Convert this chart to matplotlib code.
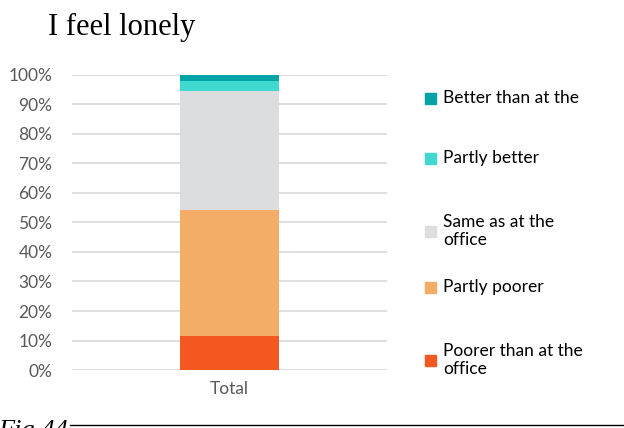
import matplotlib
matplotlib.use("Agg")
import matplotlib.pyplot as plt
from matplotlib.patches import Rectangle
from matplotlib.lines import Line2D

categories = ["Total"]
series_labels = ["Poorer than at the\noffice", "Partly poorer", "Same as at the\noffice",
                 "Partly better", "Better than at the"]
series_values = [11.5, 42.7, 40.4, 3.4, 2.0]
series_colors = ["#F45822", "#F3AD67", "#DCDDDF", "#40D9D0", "#00A3A6"]
ytick_labels = ["0%", "10%", "20%", "30%", "40%", "50%", "60%", "70%", "80%", "90%", "100%"]

fig = plt.figure(figsize=(6.24, 4.28), dpi=100)
ax = fig.add_axes([0.115, 0.1355, 0.505, 0.6893])

bottom = 0.0
for val, col in zip(series_values, series_colors):
    ax.bar(categories, [val / 100], bottom=bottom, width=0.315, color=col, zorder=3)
    bottom += val / 100

ax.set_xlim(-0.5, 0.5)
ax.set_ylim(0, 1.0)
ax.set_yticks([i / 10 for i in range(11)])
ax.set_yticklabels(ytick_labels, fontsize=12.5, color="#595959", family="Lato")
ax.tick_params(axis="y", length=0, pad=14)
ax.tick_params(axis="x", length=0, pad=8, labelsize=12.5, labelcolor="#595959")
for lbl in ax.get_xticklabels():
    lbl.set_family("Lato")
ax.grid(axis="y", color="#D9D9D9", linewidth=1.2, zorder=0)
for s in ax.spines.values():
    s.set_visible(False)

# Legend, listed top to bottom
legend_y = [98, 158, 231, 287, 360]
W, H = 624, 428
for (lab, col), ypx in zip(list(zip(series_labels, series_colors))[::-1], legend_y):
    fig.patches.append(Rectangle((425 / W, 1 - (ypx + 5.5) / H), 11 / W, 11 / H,
                                 transform=fig.transFigure, color=col))
    fig.text(443 / W, 1 - ypx / H, lab, fontsize=12.5, family="Lato", color="#000000",
             va="center", ha="left", linespacing=1.2)

fig.text(48 / W, 1 - 27 / H, "I feel lonely", fontsize=22, family="Liberation Serif",
         va="center", ha="left")

fig.text(-2 / W, 1 - 431 / H, "Fig.44", fontsize=19, family="Liberation Serif",
         style="italic", va="center", ha="left")
fig.lines.append(Line2D([70 / W, 1.0], [1 - 425 / H, 1 - 425 / H],
                        transform=fig.transFigure, color="black", linewidth=1))

fig.savefig("out.png", dpi=100)
